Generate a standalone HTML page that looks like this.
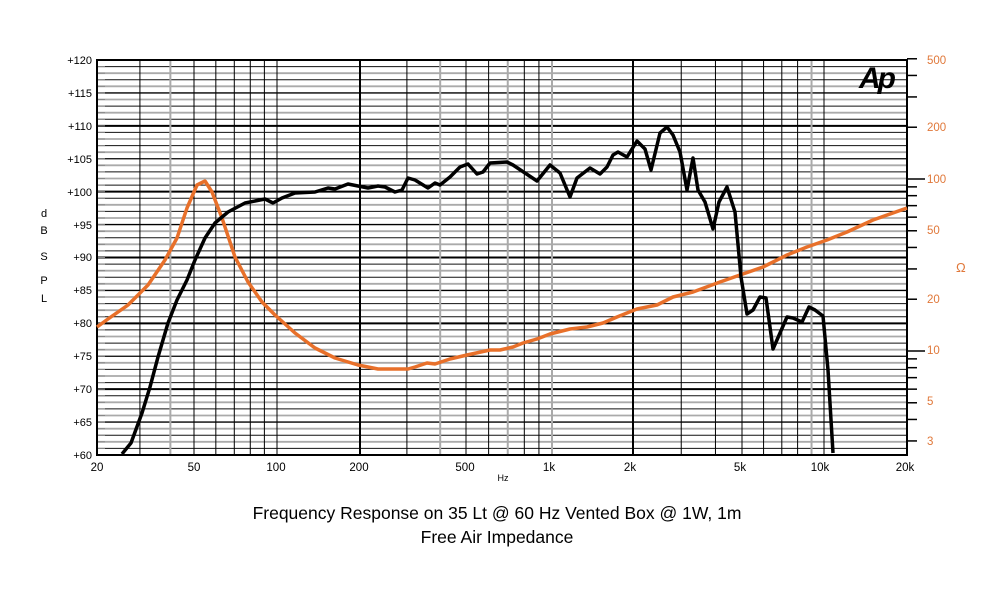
<!DOCTYPE html>
<html><head><meta charset="utf-8"><style>
html,body{margin:0;padding:0;background:#fff;}
svg{display:block;font-family:"Liberation Sans",Arial,sans-serif;}
</style></head><body>
<svg id="s" width="1000" height="601" viewBox="0 0 1000 601" xmlns="http://www.w3.org/2000/svg">
<g id="grid"></g>
<rect x="97" y="60" width="810" height="395" fill="none" stroke="#000" stroke-width="2"/>
<g font-size="11" text-anchor="end" fill="#000">
<text x="92" y="64">+120</text><text x="92" y="97">+115</text><text x="92" y="130">+110</text><text x="92" y="163">+105</text><text x="92" y="196">+100</text><text x="92" y="229">+95</text><text x="92" y="261">+90</text><text x="92" y="294">+85</text><text x="92" y="327">+80</text><text x="92" y="360">+75</text><text x="92" y="393">+70</text><text x="92" y="426">+65</text><text x="92" y="459">+60</text>
</g>
<g font-size="11" text-anchor="middle">
<text x="44" y="217">d</text><text x="44" y="234">B</text><text x="44" y="260">S</text><text x="44" y="284">P</text><text x="44" y="302">L</text>
</g>
<g font-size="11.5" text-anchor="middle">
<text x="97" y="471">20</text><text x="194" y="471">50</text><text x="276" y="471">100</text><text x="359" y="471">200</text><text x="465" y="471">500</text><text x="549" y="471">1k</text><text x="630" y="471">2k</text><text x="740" y="471">5k</text><text x="820" y="471">10k</text><text x="905" y="471">20k</text>
<text x="503" y="481" font-size="9">Hz</text>
</g>
<g font-size="11.5" fill="#e0783a">
<text x="927" y="64">500</text><text x="927" y="131">200</text><text x="927" y="183">100</text><text x="927" y="234">50</text><text x="927" y="303">20</text><text x="927" y="354">10</text><text x="927" y="405">5</text><text x="927" y="445">3</text>
<text x="956" y="272" font-size="13">Ω</text>
</g>
<g id="rt" stroke="#000" stroke-width="1.5"></g>
<text x="876" y="88" font-size="30" font-weight="bold" font-style="italic" text-anchor="middle" letter-spacing="-3">Ap</text>
<polyline fill="none" stroke="#e8702a" stroke-width="3.5" stroke-linejoin="round" points="97,327 108,319 128,305 148,285 165,260 177,238 187,208 197,185 205,181 212,192 222,218 235,257 248,282 262,302 275,315 295,333 315,348 335,358 358,365 378,369 408,369 415,367 427,363 435,364 450,359 467,355 490,350 500,350 513,347 523,343 537,339 550,334 570,329 587,327 603,323 617,317 637,309 657,305 673,297 693,292 720,282 740,275 763,267 787,255 807,247 827,240 847,232 873,220 907,208"/>
<polyline fill="none" stroke="#000" stroke-width="3.5" stroke-linejoin="round" points="122,454 131,443 142,413 150,387 158,357 168,323 177,300 187,280 195,260 205,238 215,223 228,212 245,203 265,199 273,203 282,198 295,193 315,192 328,188 335,189 348,184 368,188 378,186 385,187 395,192 402,190 408,178 415,180 428,188 435,183 440,185 450,177 460,167 468,164 477,174 483,172 490,163 507,162 513,165 537,181 550,165 560,173 570,197 577,178 590,168 600,174 607,167 613,155 618,152 627,157 637,141 645,149 651,170 660,133 667,127 673,135 680,152 687,190 693,158 698,190 705,202 713,229 719,202 727,187 735,212 741,277 747,314 753,310 760,297 766,298 773,349 780,333 787,317 793,318 802,322 809,307 815,310 823,316 828,370 833,453"/>
<g font-size="17.5" text-anchor="middle">
<text x="497" y="519">Frequency Response on 35 Lt @ 60 Hz Vented Box @ 1W, 1m</text>
<text x="497" y="543">Free Air Impedance</text>
</g>
</svg>
<script>
var ns="http://www.w3.org/2000/svg",g=document.getElementById("grid"),rt=document.getElementById("rt");
function L(p,x1,y1,x2,y2,c,w){var l=document.createElementNS(ns,"line");l.setAttribute("x1",x1);l.setAttribute("y1",y1);l.setAttribute("x2",x2);l.setAttribute("y2",y2);l.setAttribute("stroke",c);l.setAttribute("stroke-width",w);p.appendChild(l);}
for(var d=61;d<120;d++){var y=455-(d-60)*395/60;
 if(d%10==0)L(g,97,y,907,y,"#000",2);else if(d%5==0)L(g,97,y,907,y,"#000",1.3);
 else if(d%2==0)L(g,97,y,907,y,"#aaa",1.8);else L(g,97,y,907,y,"#111",1);
 L(g,97,y,105,y,"#888",1);}
var A=[[20,97],[50,194],[100,277],[200,360],[500,466],[1000,552],[2000,633],[5000,742],[10000,824],[20000,907]];
function X(f){for(var i=0;i<A.length-1;i++){if(f<=A[i+1][0]){var a=A[i],b=A[i+1];return a[1]+(b[1]-a[1])*Math.log(f/a[0])/Math.log(b[0]/a[0]);}}return 907;}
[[20,100],[100,1000],[1000,10000]].forEach(function(r){for(var m=2;m<=10;m++){var f=r[0]/ (r[0]==20?2:1)*m; if(r[0]==20){f=10*m;if(f<=20)continue;}
 var x=X(f),c="#000",w=1;
 if(f==200||f==2000)w=2;
 if(f==40||f==400||f==700||f==1000||f==9000)c="#aaa",w=2;
 L(g,x,60,x,455,c,w);}});
L(g,X(20000),60,X(20000),455,"#000",1);
function Y(o){return 351-172*Math.log10(o/10);}
[500,400,300,200,100,90,80,70,60,50,40,30,20,10,9,8,7,6,5,4,3].forEach(function(o){var y=Y(o);L(rt,907,y,(o==100||o==10)?925:917,y,"#000",1.5);});
</script>
</body></html>
